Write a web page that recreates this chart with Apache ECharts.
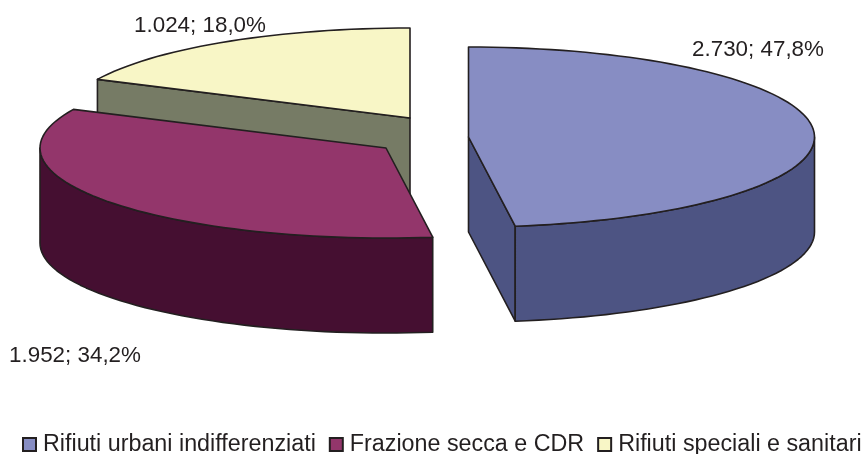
<!DOCTYPE html>
<html><head><meta charset="utf-8">
<style>html,body{margin:0;padding:0;background:#fff}#c{width:865px;height:454px}</style>
<script src="https://cdn.jsdelivr.net/npm/echarts@6/dist/echarts.min.js"></script>
</head><body><div id="c"></div>
<script>
const categories = ['Rifiuti urbani indifferenziati', 'Frazione secca e CDR', 'Rifiuti speciali e sanitari'];
const values = [2730, 1952, 1024];
const percents = ['47,8%', '34,2%', '18,0%'];
const valueLabels = ['2.730', '1.952', '1.024'];

const topColors = ['#878dc3', '#93366b', '#f8f6c6'];
const outerColors = ['#4d5483', '#450f31', '#4d5483'];
const innerColors = ['#4d5483', '#450f31', '#767b65'];
const edge = '#231f20';
const rx = 346, ry = 90, depth = 95;
const centers = [[468.5, 137], [386, 148], [410, 118]];
const labelPos = [[692, 50], [9, 356], [134, 26]];
const total = values.reduce((a, b) => a + b, 0);

function pt(c, deg, dy) {
  const r = deg * Math.PI / 180;
  return [c[0] + rx * Math.sin(r), c[1] - ry * Math.cos(r) + (dy || 0)];
}
function arc(c, a, b, dy) {
  const out = [], n = Math.max(2, Math.ceil((b - a) / 2));
  for (let i = 0; i <= n; i++) out.push(pt(c, a + (b - a) * i / n, dy));
  return out;
}
function poly(points, fill) {
  return { type: 'polygon', shape: { points }, style: { fill, stroke: edge, lineWidth: 1.6, lineJoin: 'round' } };
}
function slice(i) {
  const c = centers[i];
  const a = 360 * values.slice(0, i).reduce((s, v) => s + v, 0) / total;
  const b = a + 360 * values[i] / total;
  const kids = [];
  if (i === 0) {
    const e = pt(c, b);
    kids.push(poly([c, e, [e[0], e[1] + depth], [c[0], c[1] + depth]], innerColors[i]));
  }
  if (i === 2) {
    const s = pt(c, a);
    kids.push(poly([s, c, [c[0], c[1] + depth], [s[0], s[1] + depth]], innerColors[i]));
  }
  const fa = Math.max(a, 90), fb = Math.min(b, 270);
  if (fb > fa) {
    const front = arc(c, fa, fb, 0), low = arc(c, fa, fb, depth).reverse();
    kids.push(poly(front.concat(low), outerColors[i]));
  }
  kids.push(poly([c].concat(arc(c, a, b, 0)), topColors[i]));
  const lp = labelPos[i];
  kids.push({ type: 'text', style: {
    x: lp[0], y: lp[1], text: valueLabels[i] + '; ' + percents[i],
    fill: edge, font: '22.4px "Liberation Sans", Arial, sans-serif', textVerticalAlign: 'middle'
  }});
  return { type: 'group', children: kids };
}
const order = [2, 1, 0];
const series = order.map(i => ({
  type: 'custom', name: categories[i], coordinateSystem: 'none',
  itemStyle: { color: topColors[i], borderColor: edge, borderWidth: 1.5 },
  data: [values[i]], silent: true, animation: false,
  renderItem: () => slice(i)
}));
const chart = echarts.init(document.getElementById('c'), null, { renderer: 'canvas' });
chart.setOption({
  animation: false,
  backgroundColor: '#fff',
  legend: {
    data: categories.map(name => ({ name, icon: 'rect' })),
    left: 22, top: 433, itemWidth: 13, itemHeight: 13, itemGap: 13,
    textStyle: { fontFamily: '"Liberation Sans", Arial, sans-serif', fontSize: 23.3, color: edge, padding: [0, 0, 0, 2] },
    padding: 0, selectedMode: false
  },
  series
});
</script></body></html>
